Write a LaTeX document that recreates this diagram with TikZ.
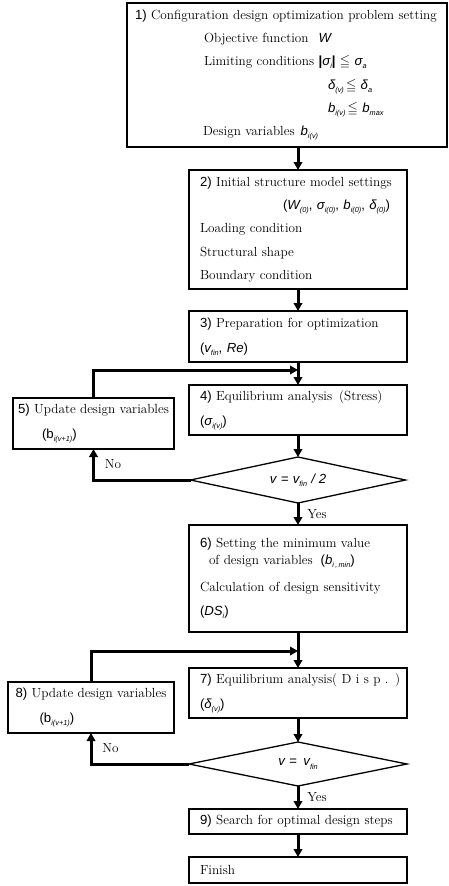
\documentclass[tikz,border=0pt]{standalone}
\usepackage{amssymb}
\usepackage{fontspec}
\newfontfamily\sfv{Liberation Sans}
\usetikzlibrary{arrows.meta,positioning,shapes.geometric}

\newcommand{\stepno}[1]{{\sfv #1}}
\newcommand{\sbs}[1]{\raisebox{-0.55ex}{\fontsize{7.3}{8}\selectfont\sfv\itshape #1}}
\newcommand{\fv}[1]{{\sfv\itshape #1}}
\newcommand{\fvs}[2]{{\sfv\itshape #1}\sbs{#2}}

\begin{document}
\begin{tikzpicture}[
  x=1pt,y=-1pt,
  node distance=22pt,
  every node/.style={outer sep=0pt},
  box/.style={draw,line width=1.4pt,align=left,inner xsep=11pt,inner ysep=0pt,text width=196pt,
    font=\fontsize{13.2}{25}\selectfont},
  sidebox/.style={draw,line width=1.4pt,align=left,inner xsep=2pt,inner ysep=0pt,minimum height=51pt,anchor=north west,
    font=\fontsize{13.2}{25}\selectfont},
  decision/.style={draw,diamond,shape aspect=4.6,line width=1.3pt,inner sep=0pt,font=\fontsize{13.2}{15}\selectfont},
  lbl/.style={font=\fontsize{13.2}{15}\selectfont},
  arr/.style={line width=3pt,-{Triangle[length=8pt,width=8.5pt]}}
]
\useasboundingbox (0,0) rectangle (448,886);
\node[draw,line width=1.8pt,align=left,inner xsep=8pt,inner ysep=0pt,text width=304pt,minimum height=144pt,anchor=north west,
  font=\fontsize{13.2}{23.3}\selectfont] (b1) at (127,3) {%
  \mbox{\stepno{1)} Configuration design optimization problem setting}\\
  \hspace*{69pt}Objective function\hspace*{10pt}\fv{W}\\
  \hspace*{69pt}Limiting conditions {\sfv\bfseries|}\fvs{σ}{i}{\sfv\bfseries|} $\leqq$ \fvs{σ}{a}\\
  \hspace*{193pt}\fvs{δ}{(v)}\,$\leqq$ \fvs{δ}{a}\\
  \hspace*{193pt}\fvs{b}{i(v)}\,$\leqq$ \fvs{b}{max}\\
  \hspace*{68pt}Design variables\hspace*{6pt}\fvs{b}{i(v)}};
\node[box,minimum height=119pt,anchor=north west,font=\fontsize{13.2}{23.3}\selectfont] (b2) at (189,170) {%
  \stepno{2)} Initial structure model settings\\
  \hspace*{83pt}{\sfv(}\fvs{W}{(0)}{\sfv,} \fvs{σ}{i(0)}{\sfv,} \fvs{b}{i(0)}{\sfv,} \fvs{δ}{(0)}{\sfv)}\\
  Loading condition\\
  Structural shape\\
  Boundary condition};
\node[box,minimum height=51pt,below=of b2] (b3) {%
  \stepno{3)} Preparation for optimization\\
  {\sfv(}\fvs{v}{fin}{\sfv,} \fv{Re}{\sfv)}};
\node[box,minimum height=50pt,below=23pt of b3] (b4) {%
  \mbox{\stepno{4)} Equilibrium analysis\hspace{7pt}(Stress)}\\
  {\sfv(}\fvs{σ}{i(v)}{\sfv)}};
\node[decision,minimum width=215pt,minimum height=46pt,below=of b4] (d1) {\fv{v} \fv{=} \fvs{v}{fin} \fv{/ 2}};
\node[box,minimum height=107pt,below=of d1,font=\fontsize{13.2}{17}\selectfont] (b6) {%
  \stepno{6)} Setting the minimum value\\
  \hspace*{9pt}of design variables\hspace*{8pt}{\sfv(}\fvs{b}{i\,,\,min}{\sfv)}\\[10pt]
  \mbox{Calculation of design sensitivity}\\[7pt]
  {\sfv(}\fvs{DS}{i}{\sfv)}};
\node[box,minimum height=50pt,below=36pt of b6] (b7) {%
  \mbox{\stepno{7)} Equilibrium analysis( D i s p . )}\\
  {\sfv(}\fvs{δ}{(v)}{\sfv)}};
\node[decision,minimum width=218pt,minimum height=44pt,below=24pt of b7] (d2) {\fv{v} \fv{=}\, \fvs{v}{fin}};
\node[box,minimum height=25pt,below=23pt of d2] (b9) {\mbox{\stepno{9)} Search for optimal design steps}};
\node[box,minimum height=26pt,below=23pt of b9] (fin) {Finish};
\node[sidebox,minimum width=161pt] (b5) at (13,398) {%
  \stepno{5)} Update design variables\\
  \hspace*{24pt}{\sfv(b}\sbs{i(v+1)}{\sfv)}};
\node[sidebox,minimum width=166pt] (b8) at (8,682) {%
  \stepno{8)} Update design variables\\
  \hspace*{24pt}{\sfv(b}\sbs{i(v+1)}{\sfv)}};
\coordinate[below=8pt of b3] (j1);
\coordinate[below=19pt of b6] (j2);
\draw[arr] (b1.south -| b2.north) -- (b2.north);
\draw[arr] (b2) -- (b3);
\draw[arr] (b3) -- (b4);
\draw[arr] (b5.north) |- (j1);
\draw[arr] (b4) -- (d1);
\draw[arr] (d1.west) -| node[lbl,pos=0.75,right=8pt]{No} (b5.south);
\draw[arr] (d1) -- node[lbl,right=6pt]{Yes} (b6);
\draw[arr] (b6) -- (b7);
\draw[arr] (b8.north) |- (j2);
\draw[arr] (b7) -- (d2);
\draw[arr] (d2.west) -| node[lbl,pos=0.75,right=8pt]{No} (b8.south);
\draw[arr] (d2) -- node[lbl,right=6pt]{Yes} (b9);
\draw[arr] (b9) -- (fin);
\end{tikzpicture}
\end{document}
